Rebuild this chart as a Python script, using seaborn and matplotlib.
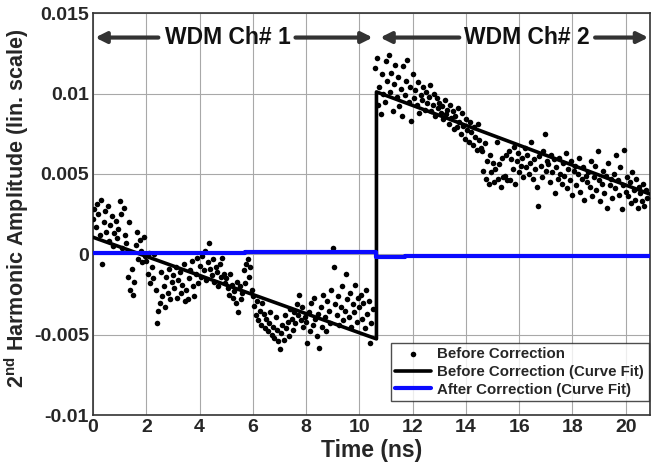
import numpy as np
import pandas as pd
import matplotlib
matplotlib.use("Agg")
import matplotlib.pyplot as plt
import seaborn as sns

# ---------------- data ----------------
dt = 0.05  # ns sampling interval of the plotted samples
ch1_start = 0.0
ch2_start = 10.6
# amplitudes in units of 1e-4
ch1_amp_e4 = [
    22, 28, 17, 31, 25, 12, 34, -6, 20, 27,
    14, 30, 8, 18, 24, 5, 13, 21, 10, 16,
    33, 25, 4, 29, 12, 7, -14, 20, -22, -9,
    -25, -17, 6, 14, -3, 9, 2, -5, 11, -1,
    -4, -12, 1, -18, -8, -15, 0, -22, -43, -35,
    -30, -11, -26, -20, -33, -14, -24, -9, -28, -17,
    -13, -21, -8, -27, -16, -11, -24, -19, -6, -29,
    -22, -28, -15, -10, -4, -20, -26, -12, -2, -18,
    -7, -14, -1, -10, 2, -16, -5, 7, -9, -13,
    -3, -17, -8, -11, -20, -6, -14, -2, -12, -18,
    -15, -21, -25, -12, -19, -27, -23, -30, -17, -36,
    -20, -28, -24, -10, -18, -6, -3, -14, -8, -22,
    -26, -32, -38, -29, -41, -35, -44, -30, -37, -46,
    -40, -48, -43, -36, -50, -45, -52, -39, -47, -54,
    -59, -49, -44, -53, -38, -46, -42, -51, -34, -40,
    -47, -36, -43, -31, -38, -25, -41, -33, -45, -39,
    -42, -55, -36, -48, -30, -44, -27, -40, -51, -37,
    -58, -33, -45, -25, -39, -48, -29, -35, -43, -22,
    4, -8, -31, -38, -26, -44, -33, -20, -41, -35,
    -12, -28, -39, -24, -45, -31, -36, -19, -42, -27,
    -33, -25, -40, -30, -46, -22, -37, -29, -55, -43, -34,
]
ch2_amp_e4 = [
    116, 122, 93, 104, 87, 112, 100, 95, 120, 108,
    124, 101, 113, 89, 106, 118, 98, 110, 92, 103,
    86, 117, 99, 108, 121, 95, 104, 83, 112, 97,
    102, 93, 107, 88, 99, 96, 104, 90, 101, 94,
    98, 105, 89, 93, 100, 86, 97, 91, 94, 88,
    92, 84, 96, 87, 90, 81, 93, 85, 89, 78,
    86, 79, 91, 82, 75, 88, 80, 72, 84, 77,
    70, 82, 76, 68, 79, 73, 65, 81, 71, 66,
    64, 52, 69, 47, 58, 44, 62, 51, 57, 45,
    53, 70, 47, 56, 42, 60, 48, 49, 62, 46,
    64, 46, 59, 53, 67, 44, 58, 63, 51, 55,
    60, 48, 66, 54, 62, 50, 57, 70, 47, 59,
    53, 42, 30, 61, 55, 48, 64, 75, 52, 58,
    56, 45, 62, 51, 59, 38, 54, 47, 60, 50,
    44, 57, 49, 63, 41, 53, 46, 58, 37, 52,
    55, 43, 50, 60, 39, 47, 54, 34, 49, 45,
    51, 42, 58, 36, 48, 55, 40, 64, 46, 33,
    44, 52, 38, 49, 29, 57, 43, 47, 35, 50,
    41, 62, 46, 37, 54, 28, 43, 65, 39, 48,
    36, 45, 32, 51, 40, 34, 47, 29, 42, 38,
    33, 44, 30, 40, 35,
]
# curve fits (breakpoints)
fit_before_t = [0.0, 10.64, 10.64, 20.9]
fit_before_v = [0.00106, -0.00526, 0.01010, 0.00375]
fit_after_t = [0.0, 5.7, 5.7, 10.64, 10.64, 11.7, 11.7, 16.8, 16.8, 20.9]
fit_after_v = [0.00008, 0.00008, 0.00016, 0.00016, -0.00019, -0.00019,
               -0.00013, -0.00013, -0.00010, -0.00010]

xticks = [0, 2, 4, 6, 8, 10, 12, 14, 16, 18, 20]
yticks = [-0.01, -0.005, 0, 0.005, 0.01, 0.015]
ytick_labels = ["-0.01", "-0.005", "0", "0.005", "0.01", "0.015"]

# ---------------- build frames ----------------
t1 = ch1_start + dt * np.arange(len(ch1_amp_e4))
t2 = ch2_start + dt * np.arange(len(ch2_amp_e4))
scatter_df = pd.DataFrame({
    "t": np.concatenate([t1, t2]),
    "v": np.array(ch1_amp_e4 + ch2_amp_e4) * 1e-4,
})
fit_b = pd.DataFrame({"t": fit_before_t, "v": fit_before_v})
fit_a = pd.DataFrame({"t": fit_after_t, "v": fit_after_v})

# ---------------- style ----------------
sns.set_style("white")
plt.rcParams["font.family"] = ["Liberation Sans", "DejaVu Sans"]
plt.rcParams["font.weight"] = "bold"
plt.rcParams["mathtext.fontset"] = "custom"
plt.rcParams["mathtext.rm"] = "Liberation Sans:bold"
plt.rcParams["mathtext.bf"] = "Liberation Sans:bold"

fig = plt.figure(figsize=(6.51, 4.68), dpi=100)
ax = fig.add_axes([0.143, 0.113, 0.855, 0.859])

sns.scatterplot(data=scatter_df, x="t", y="v", ax=ax, color="black", s=16,
                linewidth=0, label="Before Correction", zorder=3)
sns.lineplot(data=fit_b, x="t", y="v", ax=ax, sort=False, estimator=None,
             color="black", lw=2.6, label="Before Correction (Curve Fit)", zorder=4)
sns.lineplot(data=fit_a, x="t", y="v", ax=ax, sort=False, estimator=None,
             color="#0a0aff", lw=3.0, label="After Correction (Curve Fit)", zorder=5)

ax.set_xlim(0, 20.9)
ax.set_ylim(-0.01, 0.015)
ax.set_xticks(xticks)
ax.set_yticks(yticks)
ax.set_yticklabels(ytick_labels)
ax.grid(True, color="#a8a8a8", lw=0.8)
ax.set_axisbelow(True)
for s in ax.spines.values():
    s.set_color("#333333")
    s.set_linewidth(1.2)
ax.tick_params(axis="both", labelsize=14, direction="in", length=4, pad=3)
for lab in ax.get_xticklabels() + ax.get_yticklabels():
    lab.set_fontweight("bold")

ax.set_xlabel("Time (ns)", fontsize=16.5, fontweight="bold", labelpad=2)
ax.set_ylabel(r"2$^{\rm nd}$ Harmonic Amplitude (lin. scale)", fontsize=15.5,
              fontweight="bold")
ax.yaxis.set_label_coords(-0.112, 0.515)

# channel annotations
ya = 0.01348
arrow_kw = dict(arrowstyle="-|>", lw=3.0, color="#333333", mutation_scale=16,
                shrinkA=0, shrinkB=0)
ax.text(5.05, ya, "WDM Ch# 1", ha="center", va="center", fontsize=16.5,
        fontweight="bold", color="#111111")
ax.annotate("", xy=(0.08, ya), xytext=(2.45, ya), arrowprops=arrow_kw)
ax.annotate("", xy=(10.5, ya), xytext=(7.6, ya), arrowprops=arrow_kw)
ax.text(16.3, ya, "WDM Ch# 2", ha="center", va="center", fontsize=16.5,
        fontweight="bold", color="#111111")
ax.annotate("", xy=(10.78, ya), xytext=(13.75, ya), arrowprops=arrow_kw)
ax.annotate("", xy=(20.85, ya), xytext=(18.85, ya), arrowprops=arrow_kw)

leg = ax.legend(loc="lower right", bbox_to_anchor=(0.998, 0.035), fontsize=10.8,
                frameon=True, fancybox=False, handlelength=2.4,
                borderpad=0.3, labelspacing=0.25, handletextpad=0.4,
                borderaxespad=0)
leg.get_frame().set_edgecolor("#222222")
leg.get_frame().set_linewidth(1.0)
for txt in leg.get_texts():
    txt.set_fontweight("bold")

fig.savefig("out.png", dpi=100)
